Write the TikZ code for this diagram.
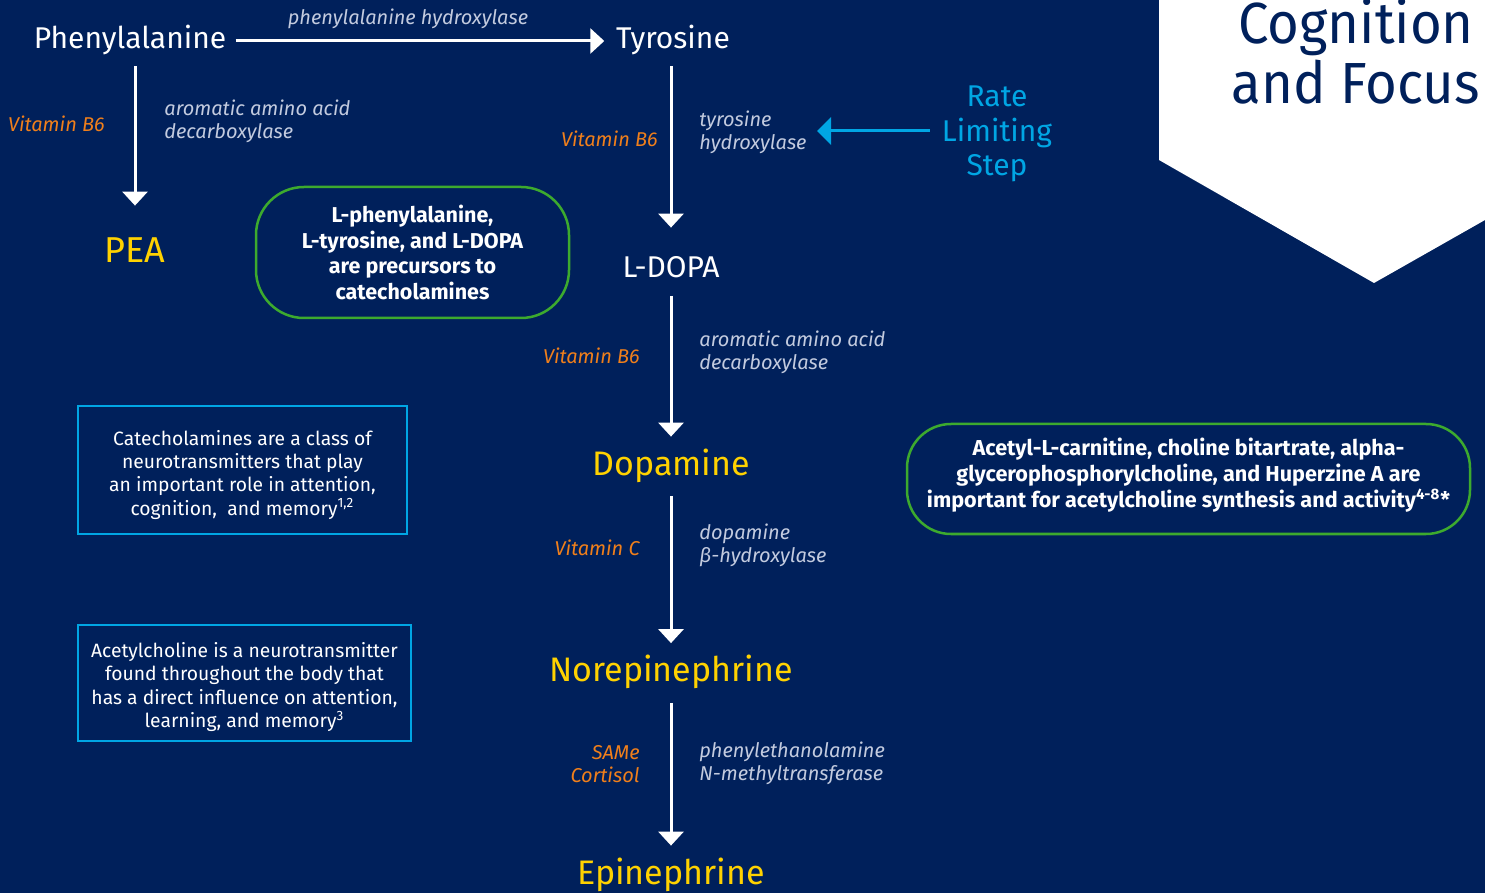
\documentclass[tikz,border=0pt]{standalone}
\usepackage{fontspec}
\setmainfont{Fira Sans}
\newfontfamily\narrowfont[FakeStretch=0.94]{Fira Sans}
\usetikzlibrary{arrows.meta}

\definecolor{navy}{HTML}{00205B}
\definecolor{amineyellow}{HTML}{FFD200}
\definecolor{vitorange}{HTML}{F07F1B}
\definecolor{enzgray}{HTML}{C3CBDF}
\definecolor{rateblue}{HTML}{00A6E4}
\definecolor{precgreen}{HTML}{3DAA2E}

\begin{document}
\begin{tikzpicture}[x=0.5pt,y=-0.5pt,
    compound/.style={text=white,font=\fontsize{15}{18}\selectfont,inner sep=0pt,inner xsep=4.5pt,text height=11pt,text depth=3.5pt,minimum height=25pt},
    product/.style={text=amineyellow,font=\fontsize{17}{20}\selectfont,inner sep=0pt,text height=12pt,text depth=3.5pt,minimum height=29.5pt},
    flow/.style={draw=white,line width=1.5pt,-{Triangle[width=12.5pt,length=7pt]}},
    cofactor/.style={text=vitorange,font=\fontsize{10}{11.5}\selectfont\itshape,align=right,inner sep=0pt},
    enzyme/.style={text=enzgray,font=\fontsize{10}{11.5}\selectfont\itshape,align=left,inner sep=0pt},
    precursor/.style={draw=precgreen,line width=1.25pt,rounded corners=24pt,text=white,font=\bfseries\fontsize{10.75}{12.85}\selectfont,align=center,inner sep=0pt},
    note/.style={draw=rateblue,line width=1.25pt,text=white,font=\fontsize{9.65}{11.67}\selectfont,align=center,inner sep=0pt}]
        % Background
        \useasboundingbox (0,0) rectangle (1485,893);
        \fill[navy] (0,0) rectangle (1485,893);
        \fill[white] (1159,0) -- (1485,0) -- (1485,220) -- (1374,283) -- (1159,160) -- cycle;  % Banner
        \node[text=navy,font=\narrowfont\fontsize{29}{30}\selectfont,align=center,inner sep=0pt,anchor=north] (title) at (1356,-2) {Cognition\\and Focus};

        % Compounds
        \node[compound] (phe) at (130,41) {Phenylalanine};
        \node[compound] (tyr) at (673,41) {Tyrosine};
        \node[product,font=\fontsize{18}{20}\selectfont] (pea) at (135,254.5) {PEA};
        \node[compound] (ldopa) at (671,270.5) {L-DOPA};
        \node[product] (dopa) at (671,466.5) {Dopamine};
        \node[product] (norepi) at (671,673) {Norepinephrine};
        \node[product] (epi) at (671,875.5) {Epinephrine};

        % Steps
        \draw[flow,shorten >=1.25pt] (phe) -- (tyr);
        \draw[flow,shorten >=9.5pt] (phe.south -| pea) -- (pea);
        \draw[flow,shorten >=8.75pt] (tyr.south -| ldopa) -- (ldopa);
        \draw[flow] (ldopa) -- (dopa);
        \draw[flow] (dopa) -- (norepi);
        \draw[flow] (norepi) -- (epi);

        % Enzymes and cofactors
        \node[enzyme] (phh) at (408,19) {phenylalanine hydroxylase};
        \node[cofactor,anchor=east] (vitb6a) at (105,124) {Vitamin B6};
        \node[enzyme,anchor=west] (aadca) at (164,121.5) {aromatic amino acid\\decarboxylase};
        \node[cofactor,anchor=east] (vitb6b) at (658,139) {Vitamin B6};
        \node[enzyme,anchor=west] (th) at (699,132.5) {tyrosine\\hydroxylase};
        \node[cofactor,anchor=east] (vitb6c) at (640,356) {Vitamin B6};
        \node[enzyme,anchor=west] (aadcb) at (699,352.5) {aromatic amino acid\\decarboxylase};
        \node[cofactor,anchor=east] (vitc) at (640,548) {Vitamin C};
        \node[enzyme,anchor=west] (dbh) at (699,545.5) {dopamine\\β-hydroxylase};
        \node[cofactor,anchor=east] (same) at (640,764.5) {SAMe\\Cortisol};
        \node[enzyme,anchor=west] (pnmt) at (699,763.5) {phenylethanolamine\\N-methyltransferase};

        % Rate limiting step
        \node[text=rateblue,font=\fontsize{15}{17.25}\selectfont,align=center,inner sep=0pt,inner xsep=6pt] (rate) at (997,134) {Rate\\Limiting\\Step};
        \coordinate (ratetip) at (817,131);
        \draw[rateblue,line width=1.5pt,-{Triangle[width=13.5pt,length=7pt]}] (rate.west |- ratetip) -- (ratetip);

        % Boxes
        \node[precursor,minimum width=156.5pt,minimum height=65.5pt] (prec) at (412.5,252.5) {L-phenylalanine,\\L-tyrosine, and L-DOPA\\are precursors to\\catecholamines};
        \node[precursor,rounded corners=22pt,minimum width=281.5pt,minimum height=55pt,font=\bfseries\fontsize{10.8}{13}\selectfont] (achsyn) at (1188.5,479) {\rule{0pt}{7.5pt}Acetyl-L-carnitine, choline bitartrate, alpha-\\glycerophosphorylcholine, and Huperzine A are\\important for acetylcholine synthesis and activity\textsuperscript{4-8}*\rule[-6pt]{0pt}{6pt}};
        \node[note,minimum width=164.5pt,minimum height=64pt] (cate) at (242.5,470) {\rule{0pt}{12.2pt}Catecholamines are a class of\\neurotransmitters that play\\an important role in attention,\\cognition,~ and memory\textsuperscript{1,2}};
        \node[note,minimum width=166.5pt,minimum height=58pt] (ach) at (244.5,683) {\rule{0pt}{11.7pt}Acetylcholine is a neurotransmitter\\found throughout the body that\\has a direct influence on attention,\\learning, and memory\textsuperscript{3}};
\end{tikzpicture}
\end{document}
